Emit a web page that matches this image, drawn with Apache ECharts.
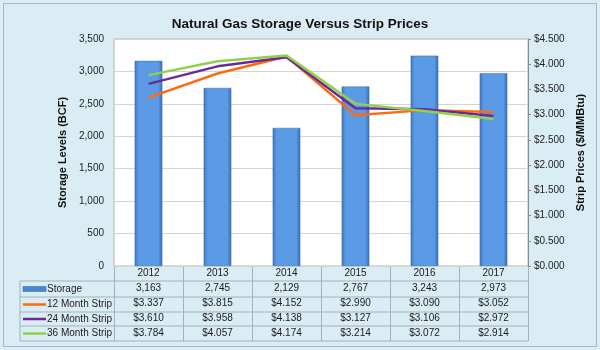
<!DOCTYPE html>
<html>
<head>
<meta charset="utf-8">
<script src="https://cdn.jsdelivr.net/npm/echarts@6/dist/echarts.min.js"></script>
<style>
  html, body { margin: 0; padding: 0; }
  #chart { width: 600px; height: 350px; }
</style>
</head>
<body>
<div id="chart"></div>
<script>
// data
var years = ['2012', '2013', '2014', '2015', '2016', '2017']
var storage = [3163, 2745, 2129, 2767, 3243, 2973]
var strip12 = [3.337, 3.815, 4.152, 2.990, 3.090, 3.052]
var strip24 = [3.610, 3.958, 4.138, 3.127, 3.106, 2.972]
var strip36 = [3.784, 4.057, 4.174, 3.214, 3.072, 2.914]
var rowNames = ['Storage', '12 Month Strip', '24 Month Strip', '36 Month Strip']
var rowColors = ['#5b9be6', '#ff6a0e', '#6a2a9c', '#8fd14f']

// layout of the plot + data table
var gLeft = 114
var gRight = 528
var gTop = 39
var gBottom = 266
var tableLeft = 20
var rowLines = [281, 297, 312, 326, 341]
var lineColor = '#9fb3bc'

function fmtStorage(v) {
  return v.toLocaleString('en-US')
}
function fmtPrice(v) {
  return '$' + v.toFixed(3)
}

var chart = echarts.init(document.getElementById('chart'))

// table grid lines + legend column
var graphics = []
var colW = (gRight - gLeft) / years.length
rowLines.forEach(function (y) {
  graphics.push({ type: 'line', shape: { x1: tableLeft, y1: y, x2: gRight, y2: y }, style: { stroke: lineColor, lineWidth: 1 } })
})
graphics.push({ type: 'line', shape: { x1: tableLeft, y1: rowLines[0], x2: tableLeft, y2: rowLines[4] }, style: { stroke: lineColor, lineWidth: 1 } })
for (var i = 0; i <= years.length; i++) {
  var x = Math.round(gLeft + colW * i) + 0.5
  graphics.push({ type: 'line', shape: { x1: x, y1: gBottom, x2: x, y2: rowLines[4] }, style: { stroke: lineColor, lineWidth: 1 } })
}
rowNames.forEach(function (name, k) {
  var cy = (rowLines[k] + rowLines[k + 1]) / 2
  if (k === 0) {
    graphics.push({ type: 'rect', shape: { x: 23, y: cy - 2.5, width: 23, height: 5 }, style: { fill: '#4d86d0', stroke: '#2f5f9e', lineWidth: 0.5 } })
  } else {
    graphics.push({ type: 'line', shape: { x1: 23, y1: cy, x2: 46, y2: cy }, style: { stroke: rowColors[k], lineWidth: 2.5 } })
  }
  graphics.push({
    type: 'text', x: 47, y: cy,
    style: { text: name, fill: '#1a1a1a', font: '10px "Liberation Sans", Arial, sans-serif', verticalAlign: 'middle' }
  })
})
// 3D-ish floor and right wall
graphics.push({ type: 'rect', z: -1, shape: { x: gLeft + 1, y: gBottom - 5, width: gRight - gLeft - 2, height: 5 }, style: { fill: '#cfcfcf' } })
graphics.push({ type: 'rect', z: -1, shape: { x: gRight - 4, y: gTop, width: 4, height: gBottom - gTop }, style: { fill: '#bdbdbd' } })
// outer frame
graphics.push({ type: 'rect', shape: { x: 3.5, y: 3.5, width: 593, height: 343 }, style: { fill: 'none', stroke: '#a9b6bb', lineWidth: 1 } })

chart.setOption({
  backgroundColor: '#dbedf4',
  animation: false,
  textStyle: { fontFamily: '"Liberation Sans", Arial, sans-serif' },
  title: {
    text: 'Natural Gas Storage Versus Strip Prices',
    left: 'center',
    top: 12,
    textStyle: { fontSize: 13.5, fontWeight: 'bold', color: '#111' }
  },
  grid: {
    left: gLeft,
    right: 600 - gRight,
    top: gTop,
    bottom: 350 - gBottom,
    show: true,
    backgroundColor: '#fff',
    borderColor: '#b5b5b5',
    borderWidth: 1
  },
  xAxis: {
    type: 'category',
    data: years,
    axisLine: { show: false },
    axisTick: { show: false },
    axisLabel: {
      margin: 0,
      interval: 0,
      color: '#1a1a1a',
      fontSize: 10,
      lineHeight: 15,
      formatter: function (val, idx) {
        return [
          val,
          fmtStorage(storage[idx]),
          fmtPrice(strip12[idx]),
          fmtPrice(strip24[idx]),
          fmtPrice(strip36[idx])
        ].join('\n')
      }
    }
  },
  yAxis: [
    {
      type: 'value',
      min: 0,
      max: 3500,
      interval: 500,
      name: 'Storage Levels (BCF)',
      nameLocation: 'middle',
      nameGap: 45,
      nameTextStyle: { fontSize: 11, fontWeight: 'bold', color: '#111' },
      axisLine: { show: false },
      axisTick: { show: false },
      axisLabel: { color: '#222', fontSize: 10, margin: 10, formatter: fmtStorage },
      splitLine: { lineStyle: { color: '#d4d4d4' } }
    },
    {
      type: 'value',
      min: 0,
      max: 4.5,
      interval: 0.5,
      name: 'Strip Prices ($/MMBtu)',
      nameLocation: 'middle',
      nameGap: 46,
      nameRotate: 90,
      nameTextStyle: { fontSize: 11, fontWeight: 'bold', color: '#111' },
      axisLine: { show: true, lineStyle: { color: '#8a8a8a' } },
      axisTick: { show: true, length: 3, lineStyle: { color: '#8a8a8a' } },
      axisLabel: { color: '#222', fontSize: 10, margin: 6, formatter: fmtPrice },
      splitLine: { show: false }
    }
  ],
  series: [
    {
      name: 'Storage',
      type: 'bar',
      yAxisIndex: 0,
      data: storage,
      barWidth: '40%',
      itemStyle: {
        color: new echarts.graphic.LinearGradient(0, 0, 1, 0, [
          { offset: 0, color: '#3f74c0' },
          { offset: 0.15, color: '#5b9be6' },
          { offset: 0.85, color: '#5b9be6' },
          { offset: 1, color: '#3a6db5' }
        ]),
        borderColor: '#3567ad',
        borderWidth: 0.5
      }
    },
    {
      name: '12 Month Strip', type: 'line', yAxisIndex: 1, data: strip12,
      symbol: 'none', lineStyle: { color: rowColors[1], width: 2.5 }, itemStyle: { color: rowColors[1] }
    },
    {
      name: '24 Month Strip', type: 'line', yAxisIndex: 1, data: strip24,
      symbol: 'none', lineStyle: { color: rowColors[2], width: 2.5 }, itemStyle: { color: rowColors[2] }
    },
    {
      name: '36 Month Strip', type: 'line', yAxisIndex: 1, data: strip36,
      symbol: 'none', lineStyle: { color: rowColors[3], width: 2.5 }, itemStyle: { color: rowColors[3] }
    }
  ],
  graphic: graphics
})
</script>
</body>
</html>
